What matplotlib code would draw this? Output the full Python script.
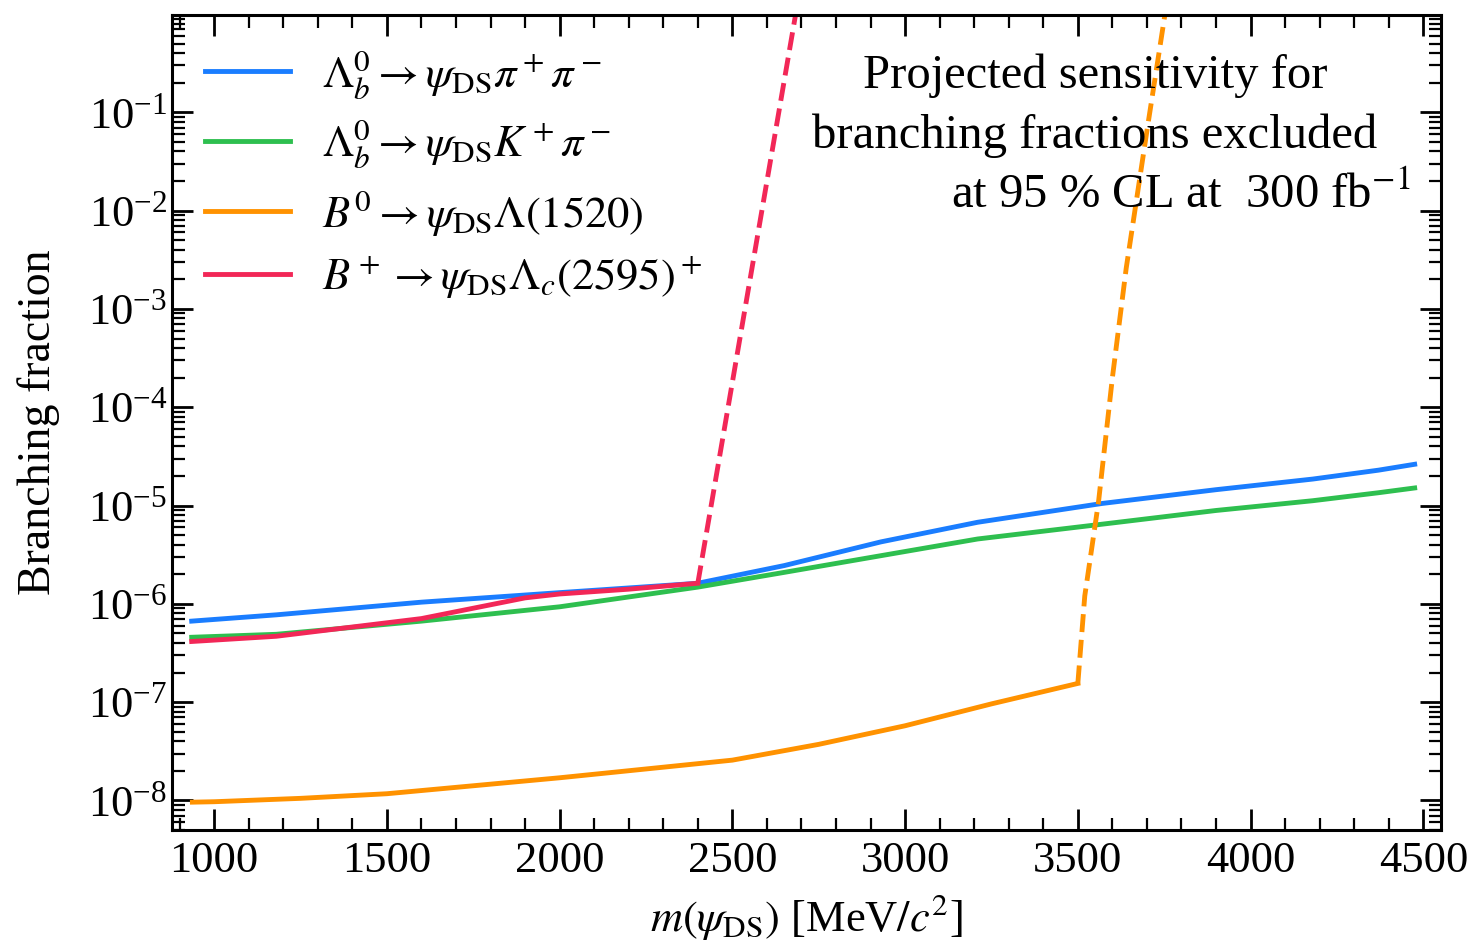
import numpy as np
import matplotlib
matplotlib.use("Agg")
from matplotlib import pyplot as plt
from matplotlib.ticker import MultipleLocator, LogLocator, NullFormatter

plt.rcParams['font.family'] = ['Liberation Serif', 'DejaVu Serif']
plt.rcParams['mathtext.fontset'] = 'stix'

# Lambda_b -> psi pi pi
blue_x = [935, 1180, 1600, 2000, 2400, 2650, 2930, 3210, 3570, 3900, 4180, 4370, 4475]
blue_y = [6.67e-7, 7.73e-7, 1.04e-6, 1.30e-6, 1.62e-6, 2.45e-6, 4.27e-6, 6.76e-6,
          1.05e-5, 1.45e-5, 1.86e-5, 2.29e-5, 2.63e-5]

# Lambda_b -> psi K pi
green_x = [935, 1180, 1600, 2000, 2400, 2650, 2930, 3210, 3570, 3900, 4180, 4370, 4475]
green_y = [4.57e-7, 4.90e-7, 6.67e-7, 9.33e-7, 1.48e-6, 2.09e-6, 3.09e-6, 4.57e-6,
           6.46e-6, 8.91e-6, 1.12e-5, 1.35e-5, 1.51e-5]

# B0 -> psi Lambda(1520)
orange_x = [937, 1000, 1250, 1500, 1750, 2000, 2250, 2500, 2750, 3000, 3250, 3500]
orange_y = [9.6e-9, 9.7e-9, 1.05e-8, 1.17e-8, 1.41e-8, 1.70e-8, 2.09e-8, 2.57e-8,
            3.72e-8, 5.75e-8, 9.6e-8, 1.55e-7]
orange_dash_x = [3500, 3520, 3560, 3600, 3640, 3700, 3760]
orange_dash_y = [1.55e-7, 1.2e-6, 1.1e-5, 2.0e-4, 2.6e-3, 6.5e-2, 1.5]

# B+ -> psi Lambda_c(2595)+
red_x = [935, 1180, 1600, 1900, 2000, 2200, 2400]
red_y = [4.14e-7, 4.68e-7, 7.08e-7, 1.15e-6, 1.26e-6, 1.41e-6, 1.62e-6]
red_dash_x = [2400, 2700]
red_dash_y = [1.62e-6, 2.2]

labels = [r'$\Lambda_b^0 \rightarrow \psi_{\mathrm{DS}}\pi^+\pi^-$',
          r'$\Lambda_b^0 \rightarrow \psi_{\mathrm{DS}}K^+\pi^-$',
          r'$B^0 \rightarrow \psi_{\mathrm{DS}}\Lambda(1520)$',
          r'$B^+ \rightarrow \psi_{\mathrm{DS}}\Lambda_c(2595)^+$']

c_blue = '#1a7dff'
c_green = '#2ebf4f'
c_orange = '#ff9200'
c_red = '#f22757'
lw = 3.5

fig = plt.figure(figsize=(14.7, 9.46), dpi=100)
ax = fig.add_axes([0.117, 0.1226, 0.863, 0.8616])

ax.plot(blue_x, blue_y, color=c_blue, lw=lw, label=labels[0])
ax.plot(green_x, green_y, color=c_green, lw=lw, label=labels[1])
ax.plot(orange_x, orange_y, color=c_orange, lw=lw, label=labels[2])
ax.plot(orange_dash_x, orange_dash_y, color=c_orange, lw=lw, ls='--')
ax.plot(red_x, red_y, color=c_red, lw=lw, label=labels[3])
ax.plot(red_dash_x, red_dash_y, color=c_red, lw=lw, ls='--')

ax.set_yscale('log')
ax.set_xlim(878, 4550)
ax.set_ylim(5e-9, 0.98)

ax.xaxis.set_major_locator(MultipleLocator(500))
ax.xaxis.set_minor_locator(MultipleLocator(100))
ax.yaxis.set_major_locator(LogLocator(base=10, numticks=20))
ax.yaxis.set_minor_locator(LogLocator(base=10, subs=np.arange(2, 10), numticks=100))
ax.yaxis.set_minor_formatter(NullFormatter())

ax.tick_params(which='both', direction='in', top=True, right=True, labelsize=32)
ax.tick_params(which='major', length=15, width=2)
ax.tick_params(which='minor', length=9, width=1.6)
ax.tick_params(axis='x', pad=8)
for s in ax.spines.values():
    s.set_linewidth(2.2)

ax.set_xlabel(r'$m(\psi_{\mathrm{DS}})$ [MeV$/c^2$]', fontsize=32, labelpad=8)
ax.set_ylabel('Branching fraction', fontsize=33, labelpad=20)

ax.legend(loc='upper left', frameon=False, fontsize=32, handlelength=1.9,
          handletextpad=0.72, labelspacing=0.39, borderaxespad=0.35,
          bbox_to_anchor=(0.0, 1.0))

ax.text(0.7276, 0.9104, 'Projected sensitivity for',
        transform=ax.transAxes, ha='center', va='baseline', fontsize=35)
ax.text(0.7276, 0.8368, 'branching fractions excluded',
        transform=ax.transAxes, ha='center', va='baseline', fontsize=35)
ax.text(0.9759, 0.7632, r'at 95 % CL at  300 fb$^{-1}$',
        transform=ax.transAxes, ha='right', va='baseline', fontsize=35)

fig.savefig('out.png', dpi=100)
